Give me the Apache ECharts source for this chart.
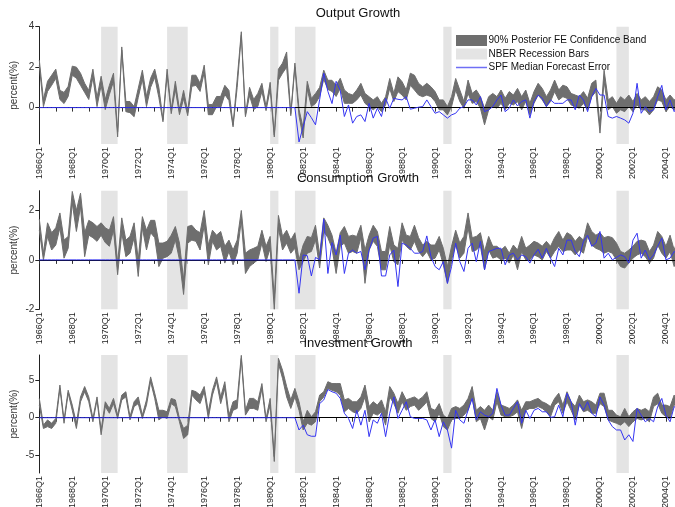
<!DOCTYPE html>
<html>
<head>
<meta charset="utf-8">
<script src="https://cdn.jsdelivr.net/npm/echarts@6/dist/echarts.min.js"></script>
<style>
  html, body { margin: 0; padding: 0; background: #fff; }
  #chart { width: 675px; height: 507px; }
</style>
</head>
<body>
<div id="chart"></div>
<script>
// Quarterly axis, 1966Q1 .. 2004Q4
const firstYear = 1966;
const lastYear = 2004;
const quarters = [];
for (let y = firstYear; y <= lastYear; y++) {
  for (let q = 1; q <= 4; q++) quarters.push(y + 'Q' + q);
}

// NBER recession periods
const recessionStart = ['1969Q4', '1973Q4', '1980Q1', '1981Q3', '1990Q3', '2001Q1'];
const recessionEnd   = ['1970Q4', '1975Q1', '1980Q3', '1982Q4', '1991Q1', '2001Q4'];

// Output growth: 90% posterior band (upper / lower) and SPF median forecast error
const outputUpper = [2.35,0.4,1.3,1.6,1.9,0.85,0.75,1.05,2.05,2.0,
1.7,1.2,0.85,1.9,0.5,1.55,0.4,1.1,1.7,-1.2,
3.0,0.3,0.3,0.05,0.95,1.85,0.55,1.45,1.9,1.0,
-0.6,1.9,-0.1,1.3,-0.1,0.85,-0.2,1.6,1.6,1.2,
2.1,0.15,0.15,0.55,0.55,1.1,0.85,-0.85,1.4,3.75,
-0.35,1.0,0.4,0.7,1.2,0.05,1.25,-1.35,1.9,2.2,
2.75,-0.3,2.2,-0.1,-1.0,1.3,0.45,0.7,1.0,1.85,
1.35,1.35,1.1,1.45,0.87,0.7,0.62,0.87,1.2,0.7,
0.54,0.38,0.54,0.21,0.54,1.44,0.7,1.52,1.28,0.87,
1.7,1.6,1.2,1.03,1.2,1.03,0.79,0.38,0.38,0.05,
0.54,1.44,0.87,0.3,1.36,0.7,0.87,0.54,-0.03,0.54,
0.7,0.54,0.87,0.46,0.79,0.62,0.95,0.54,0.87,0.21,
0.79,1.2,0.95,0.54,0.87,1.36,0.87,1.11,1.03,0.7,
0.62,0.54,0.79,0.46,1.2,1.36,-0.9,1.85,0.38,0.54,
0.21,0.54,0.38,0.62,0.3,0.7,0.38,0.54,0.3,0.54,
1.03,0.87,0.38,0.62,0.38,0.5];
const outputLower = [2.1,0.05,0.8,1.1,1.45,0.4,0.2,0.55,1.6,1.45,
1.1,0.75,0.4,1.5,0.05,1.1,-0.1,0.65,1.3,-1.45,
2.85,-0.2,-0.25,-0.45,0.5,1.4,0.05,1.0,1.5,0.5,
-0.7,1.6,-0.3,0.9,-0.35,0.45,-0.4,1.05,1.1,0.8,
1.75,-0.35,-0.35,0.05,0.0,0.65,0.35,-0.95,1.0,3.6,
-0.45,0.6,-0.1,0.05,0.8,-0.15,0.9,-1.45,1.35,1.7,
2.0,-0.4,2.0,-0.4,-1.5,0.9,0.05,0.2,0.55,1.4,
0.9,0.8,0.55,0.95,0.21,0.21,0.21,0.38,0.62,0.21,
0.05,-0.11,0.05,-0.2,0.13,0.95,0.3,0.79,0.62,0.38,
1.1,0.87,0.62,0.54,0.62,0.54,0.3,-0.11,-0.11,-0.36,
0.05,0.87,0.3,-0.03,0.7,0.21,0.3,-0.03,-0.85,-0.11,
0.05,-0.03,0.21,-0.11,0.21,0.13,0.3,-0.11,0.3,-0.36,
0.21,0.62,0.38,0.05,0.3,0.79,0.38,0.54,0.46,0.13,
0.05,-0.03,0.21,-0.11,0.54,0.79,-1.26,1.3,-0.11,0.05,
-0.28,-0.11,-0.2,0.05,-0.2,0.13,-0.11,-0.11,-0.36,-0.11,
0.38,0.3,-0.2,0.05,-0.11,0.0];
const outputSpf = [0,0,0,0,0,0,0,0,0,0,
0,0,0,0,0,0,0,0,0,0,
0,0,0,0,0,0,0,0,0,0,
0,0,0,0,0,0,0,0,0,0,
0,0,0,0,0,0,0,0,0,0,
0,0,0,0,0,0,0,0,0,0,
0,0,
0,-1.7,-0.95,-0.2,-0.5,-0.85,0.4,1.7,0.8,0.2,
1.3,0.85,-0.44,0.13,-0.77,-0.44,-0.36,-0.69,0.21,-0.52,
-0.03,-0.44,0.46,-0.03,0.46,0.41,0.38,0.54,-0.08,-0.03,
0.02,0.05,0.38,0.05,-0.28,-0.2,-0.36,-0.52,-0.36,-0.28,
-0.03,0.05,0.38,0.38,0.13,0.54,-0.2,-0.11,0.05,0.38,
0.62,-0.2,-0.03,0.38,0.08,0.3,0.38,-0.52,0.3,0.62,
0.46,0.05,0.38,0.21,0.21,0.21,0.38,0.38,-0.11,0.62,
0.38,-0.2,0.54,0.95,0.62,0.62,-0.44,-0.52,-0.44,-0.52,
-0.61,-0.77,-0.28,1.2,-0.28,0.05,-0.2,-0.11,0.54,1.1,
-0.11,0.38,-0.2,0.1];

// Consumption growth
const consUpper = [1.65,0.27,1.5,1.1,1.3,1.9,0.8,0.95,2.77,2.0,
2.7,1.1,1.6,1.5,1.35,1.5,1.3,1.2,1.75,-0.13,
1.7,0.8,0.95,1.5,0.0,1.75,1.2,1.6,1.6,0.68,
0.68,0.75,1.0,1.35,0.68,-0.8,1.35,1.4,1.2,1.1,
2.0,0.6,1.2,1.0,1.15,0.55,0.8,0.4,0.8,2.0,
0.27,0.4,0.47,0.55,1.2,0.55,0.95,-1.55,1.8,0.95,
1.2,0.8,1.1,0.0,0.6,0.95,0.9,1.4,0.2,1.7,
1.4,1.0,0.27,1.1,1.35,0.95,1.0,0.95,1.4,0.4,
1.0,1.4,1.15,0.34,0.34,1.35,0.6,0.47,1.5,1.0,
0.95,1.4,0.9,0.6,0.75,0.6,0.6,0.95,0.47,-0.27,
0.55,1.2,0.68,0.95,1.9,0.9,0.95,1.1,0.34,0.95,
0.55,0.55,0.4,0.55,0.27,0.6,0.4,0.95,0.47,0.6,
0.75,0.68,0.55,0.75,0.55,0.9,1.15,0.8,1.1,1.0,
0.75,0.95,0.8,1.5,1.15,1.0,1.1,0.9,0.95,0.9,
0.68,0.34,0.27,0.4,0.55,0.75,0.8,0.75,0.34,0.6,
1.15,0.95,0.55,1.0,0.4,0.9];
const consLower = [1.2,0.0,0.95,0.4,0.6,1.3,0.07,0.47,2.3,1.15,
2.15,0.13,1.0,0.9,0.75,1.0,0.7,0.55,1.2,-0.6,
1.1,0.13,0.27,0.9,-0.67,1.3,0.4,1.1,0.9,-0.27,
0.07,0.13,0.27,0.8,0.0,-1.4,0.68,0.8,0.75,0.4,
1.4,-0.2,0.75,0.4,0.55,-0.13,0.34,-0.2,0.27,1.6,
-0.55,-0.27,-0.13,0.0,0.68,-0.07,0.47,-2.0,1.3,0.4,
0.68,0.27,0.47,-0.4,-0.07,0.27,0.34,0.8,-0.33,1.15,
0.9,0.47,-0.55,0.55,0.68,0.27,0.34,0.27,0.9,-0.95,
0.4,0.75,0.55,-0.4,-0.4,0.6,-0.07,-0.2,0.8,0.55,
0.4,0.75,0.34,0.13,0.34,0.0,0.07,0.4,-0.2,-0.95,
0.0,0.6,0.07,0.27,1.3,0.34,0.4,0.55,-0.4,0.4,
0.07,0.13,0.0,0.07,-0.13,0.2,-0.4,0.34,0.0,0.0,
0.2,0.13,0.0,0.34,0.07,0.34,0.55,0.34,0.4,0.4,
0.2,0.4,0.27,0.95,0.6,0.47,0.4,0.27,0.34,0.27,
0.0,-0.27,-0.33,-0.13,0.07,0.2,0.27,0.13,-0.13,0.07,
0.6,0.27,0.07,0.34,-0.27,0.3];
const consSpf = [0,0,0,0,0,0,0,0,0,0,
0,0,0,0,0,0,0,0,0,0,
0,0,0,0,0,0,0,0,0,0,
0,0,0,0,0,0,0,0,0,0,
0,0,0,0,0,0,0,0,0,0,
0,0,0,0,0,0,0,0,0,0,
0,0,
0,-1.35,0.2,0.17,-0.65,0.1,0.0,1.65,-0.55,0.7,
0.2,1.0,-0.55,0.27,0.4,0.27,0.34,-0.4,0.4,0.88,
0.95,-0.65,-0.65,0.2,0.4,-1.08,0.68,0.6,0.47,0.27,
0.27,0.34,0.97,0.13,-0.27,-0.4,-0.07,-0.95,-0.27,0.68,
-0.07,-0.47,0.47,0.68,-0.07,0.75,-0.4,0.34,0.4,0.47,
0.47,-0.2,0.2,0.27,0.0,0.2,0.13,-0.13,0.2,0.43,
0.07,0.47,0.07,-0.27,0.47,0.2,0.8,0.8,0.34,0.13,
0.75,1.0,0.55,0.68,1.15,0.07,0.27,0.0,0.1,0.2,
0.13,-0.13,0.8,1.08,0.07,0.4,0.0,0.2,0.55,0.88,
0.0,0.07,0.34,0.2];

// Investment growth
const invUpper = [2.6,-1.0,-0.3,-0.75,-0.1,4.4,-0.3,3.7,1.7,-0.75,
2.8,4.2,2.8,-0.1,2.8,-1.65,2.15,1.25,2.6,0.35,
3.05,3.5,0.13,2.15,2.8,0.35,2.4,5.5,3.3,1.0,
1.0,0.8,2.6,2.4,-0.1,-1.45,-1.0,3.7,3.5,3.05,
4.2,0.8,3.7,5.5,2.8,4.85,0.35,2.15,2.4,8.4,
1.0,2.6,2.6,2.15,4.6,-0.1,2.6,-5.25,8.0,6.4,
4.2,2.4,3.95,2.15,-0.55,1.0,0.13,0.8,3.05,3.5,
4.85,4.6,4.6,4.6,2.4,2.6,2.15,2.15,2.8,4.4,
1.5,2.15,1.7,2.4,0.8,4.2,3.3,1.9,3.5,2.4,
2.6,2.8,2.4,2.8,3.5,1.25,1.0,1.9,0.35,-0.1,
1.25,1.5,1.25,1.7,2.6,4.2,1.0,1.5,1.0,1.7,
1.0,3.5,1.7,1.5,1.25,1.7,2.4,1.0,2.15,2.15,
2.4,2.6,2.15,1.9,1.5,2.6,3.3,1.7,3.5,2.15,
1.5,3.05,2.15,2.4,2.15,1.7,3.3,3.3,1.0,1.0,
0.35,0.13,1.25,0.13,0.8,1.25,1.0,1.25,0.8,2.8,
3.3,1.7,1.7,1.5,3.05,1.5];
const invLower = [1.7,-1.45,-1.2,-1.45,-0.75,3.95,-0.75,3.3,1.0,-1.45,
2.15,3.5,2.15,-0.55,2.4,-2.3,1.5,0.6,1.9,-0.1,
2.4,2.8,-0.3,1.5,1.9,-0.1,1.7,4.85,2.6,-0.3,
0.13,-0.1,1.9,1.5,-0.55,-2.8,-2.3,3.05,2.4,1.9,
3.5,-0.1,3.05,4.85,1.9,3.95,-0.55,1.0,1.25,8.0,
0.35,1.25,1.25,1.0,3.95,-0.55,1.7,-5.9,7.3,5.3,
2.8,1.25,2.8,1.0,-1.65,-0.75,-1.0,-0.55,2.15,2.8,
3.95,3.7,3.5,3.05,0.8,1.25,0.8,0.6,1.25,2.8,
-0.55,0.6,0.35,0.8,-1.0,2.8,1.9,0.6,2.15,1.0,
1.5,1.7,1.0,1.5,2.15,-0.1,-0.55,0.6,-1.2,-1.65,
-0.3,-0.1,-0.1,0.35,1.0,2.8,-0.55,-0.1,-1.65,0.13,
-0.3,2.15,0.35,0.13,0.13,0.35,0.8,-1.45,1.0,1.25,
1.25,1.5,1.25,0.8,0.13,1.7,2.15,0.6,2.15,1.0,
-0.3,1.7,0.8,1.0,0.6,0.6,1.9,1.5,-0.3,-0.55,
-0.75,-1.0,-0.55,-1.2,-0.55,-0.1,-0.3,-0.1,-0.55,1.5,
1.9,0.6,0.13,-0.1,1.9,0.5];
const invSpf = [0,0,0,0,0,0,0,0,0,0,
0,0,0,0,0,0,0,0,0,0,
0,0,0,0,0,0,0,0,0,0,
0,0,0,0,0,0,0,0,0,0,
0,0,0,0,0,0,0,0,0,0,
0,0,0,0,0,0,0,0,0,0,
0,0,
0,-1.65,-1.0,-2.3,-2.5,-2.5,1.9,2.4,3.8,3.5,
3.3,2.6,0.6,-0.1,-1.45,1.0,-1.0,1.0,-2.55,-0.3,
-0.75,0.6,-2.55,0.6,2.8,-0.1,1.0,2.15,0.13,-0.1,
-0.1,-0.1,-0.3,-1.65,-0.3,-2.55,-0.55,-1.65,-4.1,1.0,
-0.3,-0.75,1.0,2.6,-0.3,0.8,0.35,0.13,0.6,3.95,
1.7,0.35,0.35,1.25,2.15,-0.75,1.0,-0.1,1.0,1.25,
0.8,0.8,0.05,0.13,1.7,0.13,3.3,2.15,-1.0,1.9,
1.0,2.15,0.6,0.13,2.8,1.7,-0.3,-1.2,-1.65,-1.65,
-3.0,-2.3,-3.2,1.25,0.35,-0.55,-0.1,-0.55,1.5,2.6,
0.35,-0.55,1.5,1.0];

// Y-axis tick labels per panel
const outputTicks = [0, 2, 4];
const consTicks = [-2, 0, 2];
const invTicks = [-5, 0, 5];

const panelTitles = ['Output Growth', 'Consumption Growth', 'Investment Growth'];
const legendLabels = ['90% Posterior FE Confidence Band', 'NBER Recession Bars', 'SPF Median Forecast Error'];

const FONT = '"Liberation Sans", Arial, sans-serif';
const bandColor = '#6e6e6e';
const recessColor = '#e4e4e4';
const spfColor = '#3434f2';

const panels = [
  { upper: outputUpper, lower: outputLower, spf: outputSpf, ticks: outputTicks, min: -1.8, max: 4,
    grid: { top: 26.7, height: 117.3 }, titleY: 13.5 },
  { upper: consUpper, lower: consLower, spf: consSpf, ticks: consTicks, min: -2, max: 2.8,
    grid: { top: 190.7, height: 118.6 }, titleY: 178 },
  { upper: invUpper, lower: invLower, spf: invSpf, ticks: invTicks, min: -7.45, max: 8.45,
    grid: { top: 355, height: 118 }, titleY: 343 }
];

const recessionAreas = recessionStart.map((s, i) => [{ xAxis: s }, { xAxis: recessionEnd[i] }]);

const grid = [], xAxis = [], yAxis = [], series = [], graphic = [];

panels.forEach((p, i) => {
  grid.push({ left: 39.3, width: 639, top: p.grid.top, height: p.grid.height,
              containLabel: false, outerBoundsMode: 'none' });

  xAxis.push({
    type: 'category', gridIndex: i, data: quarters, boundaryGap: false,
    axisLine: { lineStyle: { color: '#9a9a9a', width: 1 } },
    axisTick: { interval: 3, length: 4, lineStyle: { color: '#333' } },
    axisLabel: { interval: 7, rotate: 90, fontSize: 9, margin: 3, color: '#222', fontFamily: FONT },
    splitLine: { show: false }
  });

  yAxis.push({
    type: 'value', gridIndex: i, min: p.min, max: p.max,
    name: 'percent(%)', nameLocation: 'middle', nameGap: 20, nameRotate: 90, nameMoveOverlap: false,
    nameTextStyle: { fontSize: 10, color: '#333', fontFamily: FONT },
    axisLine: { show: true, lineStyle: { color: '#222', width: 1 } },
    axisTick: { show: true, length: 4, customValues: p.ticks, lineStyle: { color: '#222' } },
    axisLabel: { customValues: p.ticks, fontSize: 10, margin: 5, color: '#333', fontFamily: FONT },
    splitLine: { show: false }
  });

  // lower edge of the band; also carries the recession shading and the zero line
  series.push({
    type: 'line', xAxisIndex: i, yAxisIndex: i, data: p.lower,
    stack: 'band' + i, stackStrategy: 'all', symbol: 'none',
    lineStyle: { color: bandColor, width: 1 }, z: 2, silent: true,
    markArea: { silent: true, itemStyle: { color: recessColor }, data: recessionAreas },
    markLine: {
      silent: true, symbol: ['none', 'none'], label: { show: false },
      lineStyle: { color: '#000', width: 1, type: 'solid' }, data: [{ yAxis: 0 }]
    }
  });

  // band thickness stacked on the lower edge
  series.push({
    name: legendLabels[0], type: 'line', xAxisIndex: i, yAxisIndex: i,
    data: p.upper.map((v, k) => +(v - p.lower[k]).toFixed(3)),
    stack: 'band' + i, stackStrategy: 'all', symbol: 'none',
    lineStyle: { color: bandColor, width: 1 },
    areaStyle: { color: bandColor, opacity: 1 }, z: 2, silent: true
  });

  series.push({
    name: legendLabels[2], type: 'line', xAxisIndex: i, yAxisIndex: i, data: p.spf,
    symbol: 'none', lineStyle: { color: spfColor, width: 1 }, z: 6, silent: true
  });

  graphic.push({
    type: 'text', x: 358, y: p.titleY, silent: true, z: 100,
    style: { text: panelTitles[i], font: '13px ' + FONT, fill: '#111', align: 'center', verticalAlign: 'middle' }
  });
});

// key in the upper-right of the first panel
const keyX = 456, keyY = 35, rowH = 13.5, swW = 31, swH = 11;
graphic.push(
  { type: 'rect', silent: true, z: 100, shape: { x: keyX, y: keyY, width: swW, height: swH }, style: { fill: bandColor } },
  { type: 'rect', silent: true, z: 100, shape: { x: keyX, y: keyY + rowH, width: swW, height: swH }, style: { fill: recessColor } },
  { type: 'line', silent: true, z: 100,
    shape: { x1: keyX, y1: keyY + 2 * rowH + swH / 2, x2: keyX + swW, y2: keyY + 2 * rowH + swH / 2 },
    style: { stroke: '#6f6ff5', lineWidth: 1.5 } }
);
legendLabels.forEach((t, k) => {
  graphic.push({
    type: 'text', silent: true, z: 100, x: keyX + swW + 1.5, y: keyY + k * rowH + swH / 2,
    style: { text: t, font: '10px ' + FONT, fill: '#111', align: 'left', verticalAlign: 'middle' }
  });
});

const chart = echarts.init(document.getElementById('chart'), null, { renderer: 'canvas' });
chart.setOption({
  animation: false,
  backgroundColor: '#fff',
  grid, xAxis, yAxis, series, graphic
});
</script>
</body>
</html>
